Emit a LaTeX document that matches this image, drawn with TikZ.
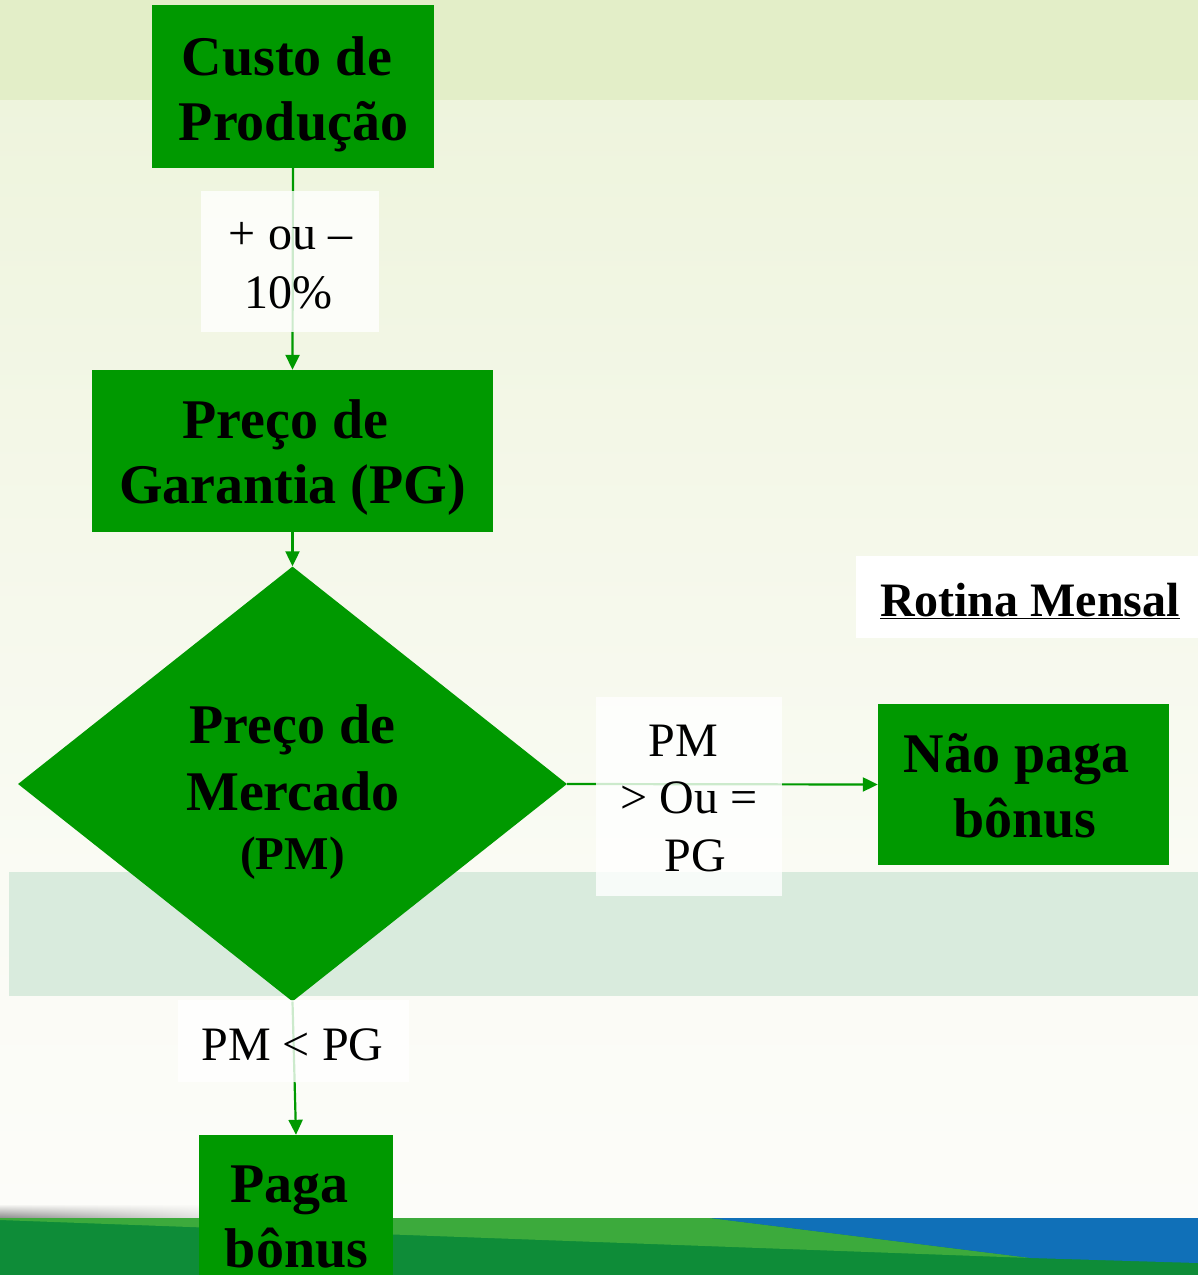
\documentclass[tikz,border=0pt]{standalone}
\usepackage{fontspec}
\setmainfont{Liberation Serif}
\usetikzlibrary{shapes.geometric,arrows.meta,fadings}
\definecolor{boxgreen}{RGB}{0,153,0}
\definecolor{topband}{RGB}{227,238,200}
\definecolor{bgA}{RGB}{238,244,221}
\definecolor{bgB}{RGB}{250,251,244}
\definecolor{bgC}{RGB}{252,252,249}
\definecolor{midband}{RGB}{217,235,221}
\definecolor{wavedark}{RGB}{14,140,56}
\definecolor{wavelight}{RGB}{60,170,60}
\definecolor{waveblue}{RGB}{16,112,184}
\tikzset{
  greenbox/.style={rectangle, fill=boxgreen, draw=none, inner sep=0pt},
  decision/.style={diamond, fill=boxgreen, draw=none, inner sep=0pt},
  boldtxt/.style={anchor=base, inner sep=0pt, text=black, font=\fontsize{56}{67}\selectfont\bfseries},
  smallbold/.style={anchor=base, inner sep=0pt, text=black, font=\fontsize{47}{56}\selectfont\bfseries},
  lbltxt/.style={anchor=base, inner sep=0pt, text=black, font=\fontsize{48}{57}\selectfont},
  lblbox/.style={rectangle, fill=white, fill opacity=0.8, draw=none, inner sep=0pt},
  arr/.style={draw=boxgreen, line width=2.2pt, -{Triangle[length=15pt,width=14pt]}}
}
\begin{document}
\begin{tikzpicture}[x=1pt,y=-1pt]
\useasboundingbox (0,0) rectangle (1198,1275);
% background
\fill[bgC] (0,0) rectangle (1198,1275);
\shade[top color=bgA, bottom color=bgB] (0,100) rectangle (1198,870);
\shade[top color=bgB, bottom color=bgC] (0,870) rectangle (1198,1218);
\fill[topband] (0,0) rectangle (1198,100);
\fill[midband] (9,872) rectangle (1198,996);
% bottom wave
\shade[top color=bgC, bottom color=black!45, path fading=east] (0,1204) rectangle (260,1218);
\fill[wavedark] (0,1218) rectangle (1198,1275);
\fill[wavelight] (0,1218) -- (710,1218) -- (1031,1258) -- (0,1220) -- cycle;
\fill[waveblue] (710,1218) -- (1198,1218) -- (1198,1263) -- (1031,1258) -- cycle;
% shapes
\node[greenbox, minimum width=282pt, minimum height=163pt] (custo) at (293,86.5) {};
\node[greenbox, minimum width=401pt, minimum height=162pt] (pg) at (292.5,451) {};
\node[decision, minimum width=549pt, minimum height=435pt] (pm) at (292.5,784) {};
\node[greenbox, minimum width=291pt, minimum height=161pt] (nao) at (1023.5,784.5) {};
\node[greenbox, minimum width=194pt, minimum height=162pt] (paga) at (296,1216) {};
\node[rectangle, fill=white, inner sep=0pt, minimum width=342pt, minimum height=82pt] (rotina) at (1027,597) {};
% connectors
\draw[arr] (custo.south) -- (pg.north);
\draw[arr] (pg.south) -- (pm.north);
\draw[arr] (pm.east) -- (nao.west);
\draw[arr] (pm.south) -- (paga.north);
% label boxes
\node[lblbox, minimum width=178pt, minimum height=141pt] (l1) at (290,261.5) {};
\node[lblbox, minimum width=186pt, minimum height=199pt] (l2) at (689,796.5) {};
\node[lblbox, minimum width=231pt, minimum height=82pt] (l3) at (293.5,1041) {};
% texts
\node[boldtxt] (custoA) at (287,75) {Custo de};
\node[boldtxt] (custoB) at (293.5,140) {Produção};
\node[boldtxt] (pgA) at (285.5,438) {Preço de};
\node[boldtxt] (pgB) at (292.5,503) {Garantia (PG)};
\node[boldtxt] (pmA) at (292.5,743) {Preço de};
\node[boldtxt] (pmB) at (293,810) {Mercado};
\node[smallbold] (pmC) at (292.5,869) {(PM)};
\node[boldtxt] (naoA) at (1016.5,772) {Não paga};
\node[boldtxt] (naoB) at (1025,837) {bônus};
\node[boldtxt] (pagaA) at (289.5,1202) {Paga};
\node[boldtxt] (pagaB) at (296.5,1267) {bônus};
\node[anchor=base, inner sep=0pt, text=black, font=\fontsize{48}{57}\selectfont\bfseries] (rotinaT) at (1030,616) {\underline{Rotina Mensal}};
\node[lbltxt] (l1A) at (290.5,249) {+ ou –};
\node[lbltxt] (l1B) at (288.5,308) {10\%};
\node[lbltxt] (l2A) at (683,756) {PM};
\node[lbltxt] (l2B) at (689,813) {> Ou =};
\node[lbltxt] (l2C) at (695,871) {PG};
\node[lbltxt] (l3A) at (292.5,1060) {PM < PG};
\end{tikzpicture}
\end{document}
